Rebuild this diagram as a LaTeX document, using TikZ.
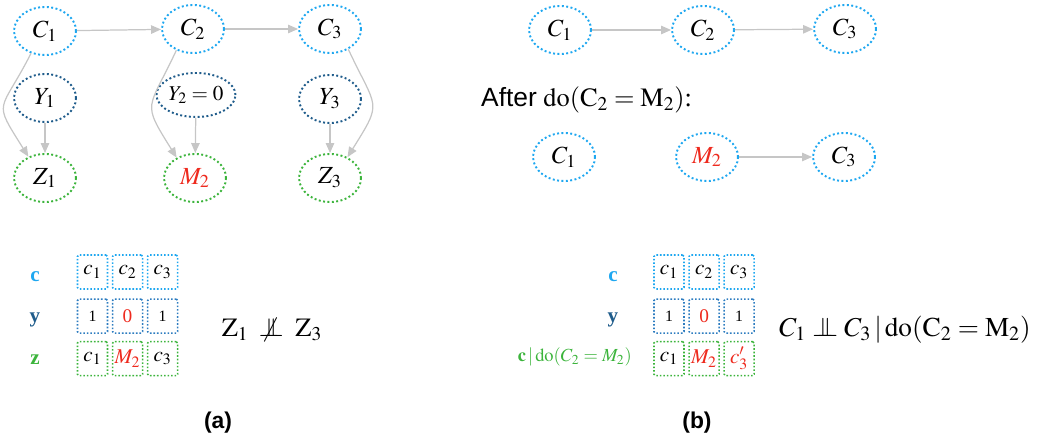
\documentclass[tikz,border=0pt]{standalone}
\usepackage{mathptmx}
\usepackage{fontspec}
\setmainfont{Liberation Serif}
\newfontfamily\helv{Liberation Sans}
\usetikzlibrary{arrows.meta, positioning, shapes.geometric}
\definecolor{cblue}{HTML}{1EA7F0}
\definecolor{ydark}{HTML}{1F5C8B}
\definecolor{ybox}{HTML}{2D7CC0}
\definecolor{zgreen}{HTML}{3CB43C}
\definecolor{hot}{HTML}{EE2A1E}
\definecolor{arrowgray}{HTML}{C6C6C6}
\newcommand{\indep}{\mathrel{\perp\mkern-11mu\perp}}
\newcommand{\nindep}{\mathrel{\not\mkern-1mu\perp\mkern-11mu\perp}}
\tikzset{
  var/.style={
    ellipse, draw, line width=1.1pt, dash pattern=on 1.1pt off 1.4pt,
    minimum width=1.24cm, minimum height=0.96cm, inner sep=0pt,
    font=\fontsize{14}{16}\selectfont
  },
  cvar/.style={var, draw=cblue},
  yvar/.style={var, draw=ydark},
  zvar/.style={var, draw=zgreen},
  arr/.style={-{Triangle[length=2mm, width=1.7mm]}, line width=0.7pt, draw=arrowgray},
  cell/.style={
    rectangle, draw, rounded corners=0.8pt, line width=0.9pt,
    dash pattern=on 0.9pt off 1.1pt, minimum width=0.6cm, minimum height=0.68cm,
    inner sep=0pt, font=\fontsize{12}{14}\selectfont
  },
  numcell/.style={cell, font=\fontsize{9}{11}\selectfont},
  rowlab/.style={font=\bfseries\fontsize{12}{14}\selectfont},
  panel/.style={font=\helv\bfseries\fontsize{13}{15}\selectfont}
}

\begin{document}
\begin{tikzpicture}[x=0.02cm, y=-0.02cm]
\useasboundingbox (0,0) rectangle (1037,445);

% ---------------- (a) graph ----------------
\node[cvar] (c1a) at (45,31) {$C_1$};
\node[cvar] (c2a) at (193,29) {$C_2$};
\node[cvar] (c3a) at (330,29) {$C_3$};
\node[yvar] (y1a) at (45,98) {$Y_1$};
\node[yvar, minimum width=1.58cm, minimum height=0.88cm, font=\fontsize{12}{14}\selectfont] (y2a) at (196,95) {$Y_2=0$};
\node[yvar] (y3a) at (330,99) {$Y_3$};
\node[zvar] (z1a) at (45,178) {$Z_1$};
\node[zvar] (m2a) at (195,178) {\color{hot}$M_2$};
\node[zvar] (z3a) at (330,178) {$Z_3$};

\draw[arr] (c1a) -- (c2a);
\draw[arr] (c2a) -- (c3a);
\draw[arr] (c1a.238) to[out=243, in=122, looseness=1.7] (z1a.128);
\draw[arr] (c2a.232) to[out=245, in=122, looseness=1.6] (m2a.132);
\draw[arr] (c3a.-48) to[out=-65, in=58, looseness=1.6] (z3a.50);
\draw[arr] (y1a) -- (z1a);
\draw[arr] (y2a) -- (m2a);
\draw[arr] (y3a) -- (z3a);

% ---------------- (b) graph ----------------
\node[cvar] (c1b) at (560,30) {$C_1$};
\node[cvar] (c2b) at (703,30) {$C_2$};
\node[cvar] (c3b) at (845,29) {$C_3$};
\draw[arr] (c1b) -- (c2b);
\draw[arr] (c2b) -- (c3b);

\node[anchor=west, font=\fontsize{15}{17}\selectfont] (after) at (475,100)
  {{\helv After} $\mathrm{do}(\mathrm{C}_2=\mathrm{M}_2)$:};

\node[cvar] (c1d) at (564,157) {$C_1$};
\node[cvar] (m2d) at (707,157) {\color{hot}$M_2$};
\node[cvar] (c3d) at (844,157) {$C_3$};
\draw[arr] (m2d) -- (c3d);

% ---------------- (a) cells ----------------
\node[cell, draw=cblue] (ca1) at (92.5,272) {$c_1$};
\node[cell, draw=cblue, right=0.07cm of ca1] (ca2) {$c_2$};
\node[cell, draw=cblue, right=0.07cm of ca2] (ca3) {$c_3$};
\node[numcell, draw=ybox, below=0.17cm of ca1] (ya1) {1};
\node[cell, draw=ybox, right=0.07cm of ya1, text=hot, font=\fontsize{11}{13}\selectfont] (ya2) {0};
\node[numcell, draw=ybox, right=0.07cm of ya2] (ya3) {1};
\node[cell, draw=zgreen, below=0.14cm of ya1] (za1) {$c_1$};
\node[cell, draw=zgreen, right=0.07cm of za1, text=hot] (za2) {$M_2$};
\node[cell, draw=zgreen, right=0.07cm of za2] (za3) {$c_3$};

\node[rowlab, text=cblue] (lca) at (35,277) {c};
\node[rowlab, text=ydark] (lya) at (35,320) {y};
\node[rowlab, text=zgreen] (lza) at (35,360) {z};

\node[font=\fontsize{15}{17}\selectfont] (indepa) at (272,330)
  {$\mathrm{Z}_1 \;\nindep\; \mathrm{Z}_3$};

% ---------------- (b) cells ----------------
\node[cell, draw=cblue] (cb1) at (669,272) {$c_1$};
\node[cell, draw=cblue, right=0.07cm of cb1] (cb2) {$c_2$};
\node[cell, draw=cblue, right=0.07cm of cb2] (cb3) {$c_3$};
\node[numcell, draw=ybox, below=0.17cm of cb1] (yb1) {1};
\node[cell, draw=ybox, right=0.07cm of yb1, text=hot, font=\fontsize{11}{13}\selectfont] (yb2) {0};
\node[numcell, draw=ybox, right=0.07cm of yb2] (yb3) {1};
\node[cell, draw=zgreen, below=0.14cm of yb1] (zb1) {$c_1$};
\node[cell, draw=zgreen, right=0.07cm of zb1, text=hot] (zb2) {$M_2$};
\node[cell, draw=zgreen, right=0.07cm of zb2, text=hot] (zb3) {$c_3'$};

\node[rowlab, text=cblue] (lcb) at (613,277) {c};
\node[rowlab, text=ydark] (lyb) at (613,320) {y};
\node[anchor=east, text=zgreen, font=\fontsize{10.5}{12}\selectfont] (lzb) at (638,357)
  {$\mathbf{c}\,|\,\mathrm{do}(C_2=M_2)$};

\node[font=\fontsize{15.5}{18}\selectfont] (indepb) at (905,330)
  {$C_1 \indep C_3 \,|\, \mathrm{do}(\mathrm{C}_2=\mathrm{M}_2)$};

% ---------------- captions ----------------
\node[panel] (capa) at (218,423) {(a)};
\node[panel] (capb) at (697,423) {(b)};

\end{tikzpicture}
\end{document}
